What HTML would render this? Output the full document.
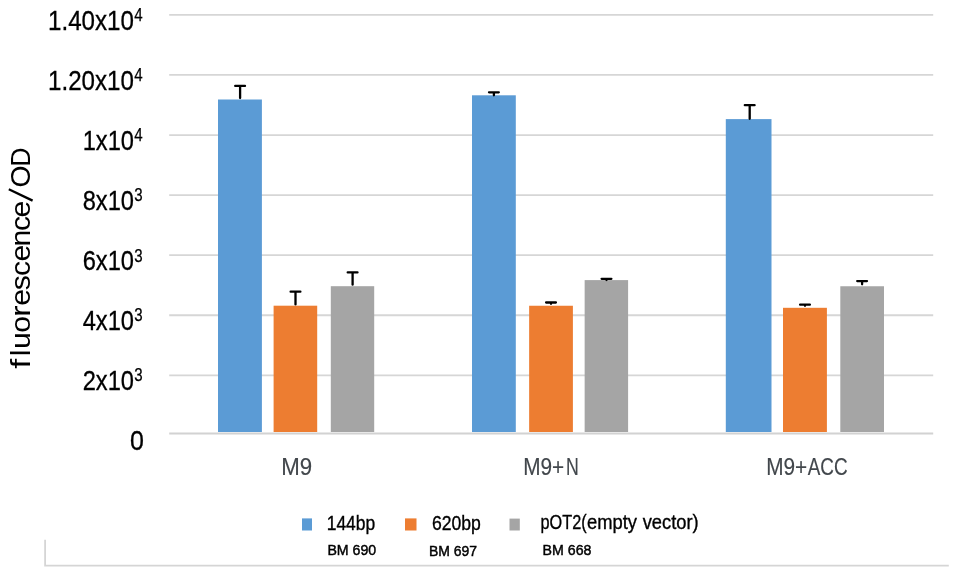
<!DOCTYPE html>
<html><head><meta charset="utf-8"><title>chart</title>
<style>html,body{margin:0;padding:0;background:#fff;}svg{display:block;will-change:transform;}text{font-family:"Liberation Sans",sans-serif;}</style>
</head><body>
<svg width="957" height="575" viewBox="0 0 957 575">
<rect x="0" y="0" width="957" height="575" fill="#ffffff"/>
<line x1="169.2" y1="14.90" x2="933.2" y2="14.90" stroke="#d6d6d6" stroke-width="1.8"/>
<line x1="169.2" y1="74.97" x2="933.2" y2="74.97" stroke="#d6d6d6" stroke-width="1.8"/>
<line x1="169.2" y1="135.04" x2="933.2" y2="135.04" stroke="#d6d6d6" stroke-width="1.8"/>
<line x1="169.2" y1="195.11" x2="933.2" y2="195.11" stroke="#d6d6d6" stroke-width="1.8"/>
<line x1="169.2" y1="255.18" x2="933.2" y2="255.18" stroke="#d6d6d6" stroke-width="1.8"/>
<line x1="169.2" y1="315.25" x2="933.2" y2="315.25" stroke="#d6d6d6" stroke-width="1.8"/>
<line x1="169.2" y1="375.32" x2="933.2" y2="375.32" stroke="#d6d6d6" stroke-width="1.8"/>
<rect x="218.0" y="99.5" width="43.90" height="332.50" fill="#5b9bd5"/>
<rect x="273.6" y="305.7" width="43.60" height="126.30" fill="#ed7d31"/>
<rect x="330.8" y="286.2" width="43.40" height="145.80" fill="#a5a5a5"/>
<rect x="472.0" y="95.3" width="43.80" height="336.70" fill="#5b9bd5"/>
<rect x="529.15" y="305.75" width="43.75" height="126.25" fill="#ed7d31"/>
<rect x="584.65" y="280.1" width="43.45" height="151.90" fill="#a5a5a5"/>
<rect x="725.8" y="119.1" width="45.70" height="312.90" fill="#5b9bd5"/>
<rect x="783.0" y="307.8" width="43.90" height="124.20" fill="#ed7d31"/>
<rect x="840.3" y="286.25" width="43.70" height="145.75" fill="#a5a5a5"/>
<line x1="169.2" y1="433.45" x2="933.2" y2="433.45" stroke="#d2d2d2" stroke-width="2"/>
<path d="M235.2 85.90H245.0M240.1 85.90V98.05" stroke="#000" stroke-width="2.3" stroke-linecap="round" fill="none"/>
<path d="M290.6 291.70H300.4M295.5 291.70V304.45" stroke="#000" stroke-width="2.3" stroke-linecap="round" fill="none"/>
<path d="M347.7 272.40H357.5M352.6 272.40V284.65" stroke="#000" stroke-width="2.3" stroke-linecap="round" fill="none"/>
<path d="M489.0 92.30H498.8M493.9 92.30V95.25" stroke="#000" stroke-width="2.3" stroke-linecap="round" fill="none"/>
<path d="M546.1 302.50H555.9M551.0 302.50V303.75" stroke="#000" stroke-width="2.3" stroke-linecap="round" fill="none"/>
<path d="M601.6 278.85H611.4M606.5 278.85V280.05" stroke="#000" stroke-width="2.3" stroke-linecap="round" fill="none"/>
<path d="M744.8 105.20H754.6M749.7 105.20V118.75" stroke="#000" stroke-width="2.3" stroke-linecap="round" fill="none"/>
<path d="M800.1 304.70H809.9M805.0 304.70V305.75" stroke="#000" stroke-width="2.3" stroke-linecap="round" fill="none"/>
<path d="M857.2 281.10H867.0M862.1 281.10V284.25" stroke="#000" stroke-width="2.3" stroke-linecap="round" fill="none"/>
<text x="134.0" y="29.6" font-size="27.2" text-anchor="end" textLength="86.0" lengthAdjust="spacingAndGlyphs" fill="#000" stroke="#000" stroke-width="0.3">1.40x10</text>
<text x="134.2" y="20.8" font-size="18" textLength="8.4" lengthAdjust="spacingAndGlyphs" fill="#000" stroke="#000" stroke-width="0.25">4</text>
<text x="134.0" y="89.8" font-size="27.2" text-anchor="end" textLength="86.0" lengthAdjust="spacingAndGlyphs" fill="#000" stroke="#000" stroke-width="0.3">1.20x10</text>
<text x="134.2" y="81.0" font-size="18" textLength="8.4" lengthAdjust="spacingAndGlyphs" fill="#000" stroke="#000" stroke-width="0.25">4</text>
<text x="134.0" y="149.9" font-size="27.2" text-anchor="end" textLength="51.3" lengthAdjust="spacingAndGlyphs" fill="#000" stroke="#000" stroke-width="0.3">1x10</text>
<text x="134.2" y="141.10000000000002" font-size="18" textLength="8.4" lengthAdjust="spacingAndGlyphs" fill="#000" stroke="#000" stroke-width="0.25">4</text>
<text x="134.0" y="210.1" font-size="27.2" text-anchor="end" textLength="51.3" lengthAdjust="spacingAndGlyphs" fill="#000" stroke="#000" stroke-width="0.3">8x10</text>
<text x="134.2" y="201.3" font-size="18" textLength="8.4" lengthAdjust="spacingAndGlyphs" fill="#000" stroke="#000" stroke-width="0.25">3</text>
<text x="134.0" y="270.3" font-size="27.2" text-anchor="end" textLength="51.3" lengthAdjust="spacingAndGlyphs" fill="#000" stroke="#000" stroke-width="0.3">6x10</text>
<text x="134.2" y="261.5" font-size="18" textLength="8.4" lengthAdjust="spacingAndGlyphs" fill="#000" stroke="#000" stroke-width="0.25">3</text>
<text x="134.0" y="330.1" font-size="27.2" text-anchor="end" textLength="51.3" lengthAdjust="spacingAndGlyphs" fill="#000" stroke="#000" stroke-width="0.3">4x10</text>
<text x="134.2" y="321.3" font-size="18" textLength="8.4" lengthAdjust="spacingAndGlyphs" fill="#000" stroke="#000" stroke-width="0.25">3</text>
<text x="134.0" y="390.1" font-size="27.2" text-anchor="end" textLength="51.3" lengthAdjust="spacingAndGlyphs" fill="#000" stroke="#000" stroke-width="0.3">2x10</text>
<text x="134.2" y="381.3" font-size="18" textLength="8.4" lengthAdjust="spacingAndGlyphs" fill="#000" stroke="#000" stroke-width="0.25">3</text>
<text x="143.9" y="450.4" font-size="27.2" text-anchor="end" textLength="13.9" lengthAdjust="spacingAndGlyphs" fill="#000" stroke="#000" stroke-width="0.3">0</text>
<text transform="translate(29.9 363.75) rotate(-90) scale(1.3 1)" font-size="27.5" text-anchor="middle" x="0" y="0" fill="#000">f</text>
<text transform="translate(29.9 352.85) rotate(-90) scale(1.1 1)" font-size="27.5" text-anchor="middle" x="0" y="0" fill="#000">l</text>
<text transform="translate(29.9 340.6) rotate(-90) scale(1.1 1)" font-size="27.5" text-anchor="middle" x="0" y="0" fill="#000">u</text>
<text transform="translate(29.9 324.4) rotate(-90) scale(1.1 1)" font-size="27.5" text-anchor="middle" x="0" y="0" fill="#000">o</text>
<text transform="translate(29.9 311.35) rotate(-90) scale(1.25 1)" font-size="27.5" text-anchor="middle" x="0" y="0" fill="#000">r</text>
<text transform="translate(29.9 297.45) rotate(-90) scale(1.1 1)" font-size="27.5" text-anchor="middle" x="0" y="0" fill="#000">e</text>
<text transform="translate(29.9 282.65) rotate(-90) scale(1.1 1)" font-size="27.5" text-anchor="middle" x="0" y="0" fill="#000">s</text>
<text transform="translate(29.9 268.55) rotate(-90) scale(1.1 1)" font-size="27.5" text-anchor="middle" x="0" y="0" fill="#000">c</text>
<text transform="translate(29.9 253.0) rotate(-90) scale(1.1 1)" font-size="27.5" text-anchor="middle" x="0" y="0" fill="#000">e</text>
<text transform="translate(29.9 238.0) rotate(-90) scale(1.1 1)" font-size="27.5" text-anchor="middle" x="0" y="0" fill="#000">n</text>
<text transform="translate(29.9 223.5) rotate(-90) scale(1.1 1)" font-size="27.5" text-anchor="middle" x="0" y="0" fill="#000">c</text>
<text transform="translate(29.9 209.2) rotate(-90) scale(1.1 1)" font-size="27.5" text-anchor="middle" x="0" y="0" fill="#000">e</text>
<text transform="translate(29.9 176.6) rotate(-90) scale(1.03 1)" font-size="27.5" text-anchor="middle" x="0" y="0" fill="#000">O</text>
<text transform="translate(29.9 157.0) rotate(-90) scale(0.97 1)" font-size="27.5" text-anchor="middle" x="0" y="0" fill="#000">D</text>
<path d="M32.6 200.6L8.8 189.2" stroke="#000" stroke-width="2.3" fill="none"/>
<text x="281.2" y="475.2" font-size="23.4" textLength="30.9" lengthAdjust="spacingAndGlyphs" fill="#42474c" stroke="#42474c" stroke-width="0.15">M9</text>
<text x="523.1999999999999" y="475.2" font-size="23.4" textLength="41.0" lengthAdjust="spacingAndGlyphs" fill="#42474c" stroke="#42474c" stroke-width="0.15">M9+</text>
<text x="565.9" y="475.2" font-size="23.4" textLength="12.8" lengthAdjust="spacingAndGlyphs" fill="#42474c" stroke="#42474c" stroke-width="0.15">N</text>
<text x="766.1999999999999" y="475.2" font-size="23.4" textLength="41.0" lengthAdjust="spacingAndGlyphs" fill="#42474c" stroke="#42474c" stroke-width="0.15">M9+</text>
<text x="807.8" y="475.2" font-size="23.4" textLength="39.8" lengthAdjust="spacingAndGlyphs" fill="#42474c" stroke="#42474c" stroke-width="0.15">ACC</text>
<rect x="302" y="518.4" width="10" height="12.1" fill="#5b9bd5"/>
<rect x="405" y="518.4" width="11.5" height="12.1" fill="#ed7d31"/>
<rect x="509.5" y="518.6" width="10.3" height="11.9" fill="#a5a5a5"/>
<text x="326.70000000000005" y="530.4499999999999" font-size="19.9" textLength="48.5" lengthAdjust="spacingAndGlyphs" fill="#000" stroke="#000" stroke-width="0.35">144bp</text>
<text x="432.0" y="529.75" font-size="19.9" textLength="48.9" lengthAdjust="spacingAndGlyphs" fill="#000" stroke="#000" stroke-width="0.35">620bp</text>
<text x="540.5" y="528.9499999999999" font-size="19.9" textLength="46.1" lengthAdjust="spacingAndGlyphs" fill="#000" stroke="#000" stroke-width="0.35">pOT2(</text>
<text x="587.0" y="528.9499999999999" font-size="19.9" textLength="50.0" lengthAdjust="spacingAndGlyphs" fill="#000" stroke="#000" stroke-width="0.35">empty</text>
<text x="642.7" y="528.9499999999999" font-size="19.9" textLength="55.9" lengthAdjust="spacingAndGlyphs" fill="#000" stroke="#000" stroke-width="0.35">vector)</text>
<text x="327.40000000000003" y="555.4" font-size="14.6" textLength="48.8" lengthAdjust="spacingAndGlyphs" fill="#000" stroke="#000" stroke-width="0.45">BM 690</text>
<text x="428.90000000000003" y="556.0" font-size="14.6" textLength="48.2" lengthAdjust="spacingAndGlyphs" fill="#000" stroke="#000" stroke-width="0.45">BM 697</text>
<text x="542.6" y="555.4" font-size="14.6" textLength="48.8" lengthAdjust="spacingAndGlyphs" fill="#000" stroke="#000" stroke-width="0.45">BM 668</text>
<path d="M45.1 539.7V565.6H948.8" stroke="#d5d5d5" stroke-width="1.8" fill="none"/>
</svg></body></html>
